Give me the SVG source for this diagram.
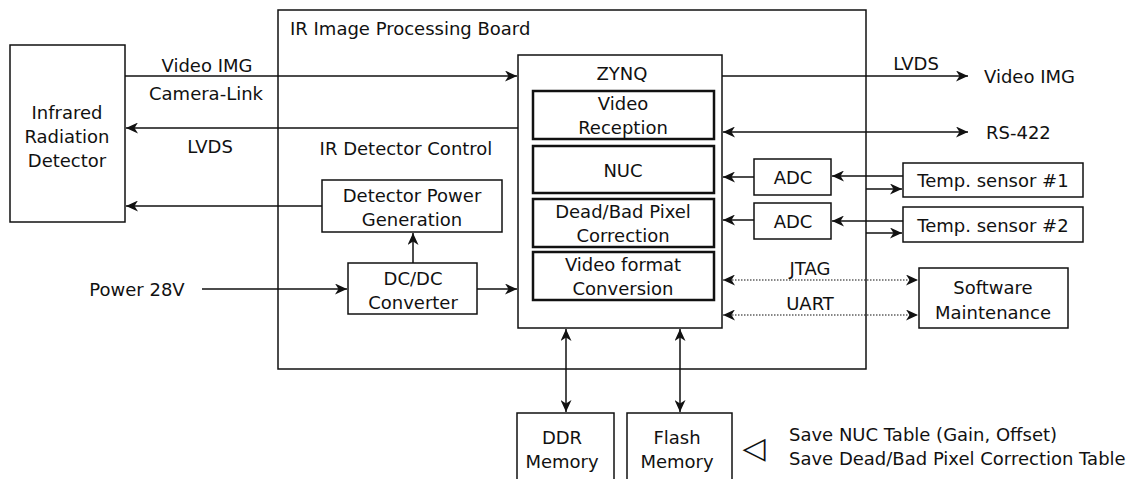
<svg xmlns="http://www.w3.org/2000/svg" width="1138" height="479" viewBox="0 0 1138 479">
<style>
text{font-family:"DejaVu Sans","Noto Sans",sans-serif;font-size:18px;fill:#111;dominant-baseline:central;text-anchor:middle}
.st{text-anchor:start}
.box{fill:#fff;stroke:#111;stroke-width:1.5}
.sub{fill:#fff;stroke:#111;stroke-width:2.5}
.ln{fill:none;stroke:#111;stroke-width:1.5}
.dot{fill:none;stroke:#111;stroke-width:1.2;stroke-dasharray:1.5 1.5}
</style>
<defs>
<marker id="ah" markerUnits="userSpaceOnUse" markerWidth="13" markerHeight="11" viewBox="0 0 13 11" refX="12" refY="5.5" orient="auto-start-reverse">
<path d="M0,0 L12,5.5 L0,11 L3.5,5.5 z" fill="#111"/>
</marker>
</defs>
<g id="board"><rect class="box" x="278" y="10" width="588" height="359" fill="none"/><text class="st" x="290" y="28">IR Image Processing Board</text></g>
<g id="detector"><rect class="box" x="10" y="45" width="115" height="177"/><text x="67" y="112">Infrared</text><text x="67" y="136">Radiation</text><text x="67" y="160">Detector</text></g>
<g id="dpg"><rect class="box" x="322" y="180" width="180" height="52"/><text x="412" y="195">Detector Power</text><text x="412" y="219">Generation</text></g>
<g id="dcdc"><rect class="box" x="348" y="263" width="129" height="51"/><text x="413" y="278">DC/DC</text><text x="413" y="302">Converter</text></g>
<g id="zynq"><rect class="box" x="518" y="55" width="204" height="273"/><text x="622" y="73">ZYNQ</text>
<rect class="sub" x="533" y="91" width="181" height="48"/><text x="623" y="103">Video</text><text x="623" y="127">Reception</text>
<rect class="sub" x="533" y="146" width="181" height="47"/><text x="623" y="170">NUC</text>
<rect class="sub" x="533" y="199" width="181" height="48"/><text x="623" y="211">Dead/Bad Pixel</text><text x="623" y="235">Correction</text>
<rect class="sub" x="533" y="252" width="181" height="48"/><text x="623" y="264">Video format</text><text x="623" y="288">Conversion</text></g>
<g id="adc1"><rect class="box" x="754" y="159" width="77" height="36"/><text x="793" y="177">ADC</text></g>
<g id="adc2"><rect class="box" x="754" y="203" width="77" height="36"/><text x="793" y="221">ADC</text></g>
<g id="temp1"><rect class="box" x="903" y="163" width="180" height="34"/><text x="993" y="180">Temp. sensor #1</text></g>
<g id="temp2"><rect class="box" x="903" y="207" width="180" height="35"/><text x="993" y="225">Temp. sensor #2</text></g>
<g id="sw"><rect class="box" x="919" y="268" width="149" height="60"/><text x="993" y="287">Software</text><text x="993" y="312">Maintenance</text></g>
<g id="ddr"><rect class="box" x="517" y="413" width="97" height="75"/><text x="562" y="437">DDR</text><text x="562" y="461">Memory</text></g>
<g id="flash"><rect class="box" x="627" y="413" width="105" height="75"/><text x="677" y="437">Flash</text><text x="677" y="461">Memory</text></g>
<g id="connectors">
<line class="ln" x1="125" y1="76" x2="517" y2="76" marker-end="url(#ah)"/>
<line class="ln" x1="518" y1="128" x2="126" y2="128" marker-end="url(#ah)"/>
<line class="ln" x1="322" y1="206" x2="126" y2="206" marker-end="url(#ah)"/>
<line class="ln" x1="413" y1="263" x2="413" y2="233" marker-end="url(#ah)"/>
<line class="ln" x1="202" y1="289" x2="347" y2="289" marker-end="url(#ah)"/>
<line class="ln" x1="477" y1="289" x2="517" y2="289" marker-end="url(#ah)"/>
<line class="ln" x1="722" y1="76" x2="968" y2="76" marker-end="url(#ah)"/>
<line class="ln" x1="723" y1="132" x2="968" y2="132" marker-start="url(#ah)" marker-end="url(#ah)"/>
<line class="ln" x1="754" y1="177" x2="723" y2="177" marker-end="url(#ah)"/>
<line class="ln" x1="754" y1="220" x2="723" y2="220" marker-end="url(#ah)"/>
<line class="ln" x1="903" y1="176" x2="832" y2="176" marker-end="url(#ah)"/>
<line class="ln" x1="903" y1="221" x2="832" y2="221" marker-end="url(#ah)"/>
<line class="ln" x1="866" y1="189" x2="902" y2="189" marker-end="url(#ah)"/>
<line class="ln" x1="866" y1="233" x2="902" y2="233" marker-end="url(#ah)"/>
<line class="dot" x1="723" y1="280" x2="918" y2="280" marker-start="url(#ah)" marker-end="url(#ah)"/>
<line class="dot" x1="723" y1="315" x2="918" y2="315" marker-start="url(#ah)" marker-end="url(#ah)"/>
<line class="ln" x1="566" y1="329" x2="566" y2="412" marker-start="url(#ah)" marker-end="url(#ah)"/>
<line class="ln" x1="680" y1="329" x2="680" y2="412" marker-start="url(#ah)" marker-end="url(#ah)"/>
</g>
<g id="labels">
<text x="207" y="65">Video IMG</text>
<text x="206" y="93">Camera-Link</text>
<text x="210" y="146">LVDS</text>
<text x="406" y="148">IR Detector Control</text>
<text x="137" y="289">Power 28V</text>
<text x="916" y="63">LVDS</text>
<text class="st" x="984" y="76">Video IMG</text>
<text class="st" x="986" y="132">RS-422</text>
<text x="810" y="268">JTAG</text>
<text x="810" y="303">UART</text>
<text x="754" y="447" style="font-size:30px">◁</text>
<text class="st" x="789" y="434">Save NUC Table (Gain, Offset)</text>
<text class="st" x="789" y="458">Save Dead/Bad Pixel Correction Table</text>
</g>
</svg>
